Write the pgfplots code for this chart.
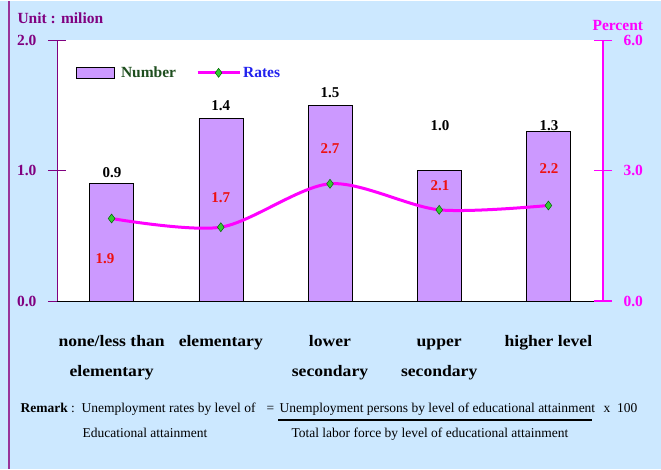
\documentclass[border=0pt]{standalone}
\usepackage{pgfplots}
\pgfplotsset{compat=1.18}
\usepackage{fontspec}
\setmainfont{Liberation Serif}
\newfontfamily\catfont[FakeStretch=1.1]{Liberation Serif}
\definecolor{bg}{HTML}{CCE8FF}
\definecolor{axpurple}{HTML}{800080}
\definecolor{outerline}{HTML}{993399}
\definecolor{barfill}{HTML}{CC99FF}
\definecolor{ratemag}{HTML}{FF00FF}
\definecolor{markgreen}{HTML}{33CC33}
\definecolor{numgreen}{HTML}{1F4F1F}
\definecolor{ratesblue}{HTML}{2222EE}
\definecolor{valred}{HTML}{EE1111}
\newcommand{\fs}[1]{\fontsize{#1}{#1}\selectfont}
\pgfplotsset{
  linelegend/.style={legend image code/.code={\draw[mark repeat=2, mark phase=2, ##1] plot coordinates {(0pt,0pt) (21pt,0pt) (42pt,0pt)};}},
  barlegend/.style={legend image code/.code={\draw[fill=barfill, draw=black, line width=0.8pt] (0pt,-5.5pt) rectangle (38pt,5.5pt);}},
}
\begin{document}
\begin{tikzpicture}[x=1pt,y=1pt]
\fill[bg] (0,0) rectangle (661,468);
\draw[outerline, line width=2pt] (9,0) -- (9,468);
% left axis: bars
\begin{axis}[
  at={(57pt,168pt)}, anchor=south west,
  scale only axis, width=546pt, height=260.5pt,
  xmin=0, xmax=5, ymin=0, ymax=2,
  axis background/.style={fill=white},
  axis x line*=bottom, axis y line*=left,
  x axis line style={draw=black, line width=0.8pt},
  y axis line style={draw=axpurple, line width=0.8pt},
  xtick={0.5,1.5,2.5,3.5,4.5},
  xticklabels={{\vphantom{l}none/less than\\elementary},{\vphantom{l}elementary},{\vphantom{l}lower\\secondary},{\vphantom{l}upper\\secondary},{\vphantom{l}higher level}},
  major x tick style={draw=none},
  xticklabel style={align=center, anchor=north, font=\catfont\fontsize{16}{30}\selectfont\bfseries, yshift=-22pt},
  extra x ticks={0,1,2,3,4,5},
  extra x tick labels={},
  extra x tick style={major tick length=12pt, tick align=center, tick style={draw=black, line width=0.8pt}},
  ytick={0,1,2},
  y tick style={draw=axpurple, line width=0.8pt},
  major tick length=18pt, tick align=center,
  yticklabel style={text=axpurple, font=\fs{15.5}\bfseries, xshift=-8pt},
  /pgf/number format/.cd, fixed, fixed zerofill, precision=1, assume math mode=true,
]
\addplot[ybar, bar width=44pt, fill=barfill, draw=black, line width=0.6pt]
  coordinates {(0.5,0.9) (1.5,1.4) (2.5,1.5) (3.5,1.0) (4.5,1.3)};
\node[font=\fs{15}\bfseries] at (axis cs:0.504,0.985) {0.9};
\node[font=\fs{15}\bfseries] at (axis cs:1.5,1.5) {1.4};
\node[font=\fs{15}\bfseries] at (axis cs:2.5,1.6) {1.5};
\node[font=\fs{15}\bfseries] at (axis cs:3.507,1.346) {1.0};
\node[font=\fs{15}\bfseries] at (axis cs:4.505,1.346) {1.3};
\end{axis}
% right axis: rates
\begin{axis}[
  at={(57pt,168pt)}, anchor=south west,
  scale only axis, width=546pt, height=260.5pt,
  xmin=0, xmax=5, ymin=0, ymax=6,
  axis x line=none, axis y line*=right,
  y axis line style={draw=ratemag, line width=1.2pt},
  ytick={0,3,6},
  y tick style={draw=ratemag, line width=1.2pt},
  major tick length=18pt, tick align=center,
  yticklabel style={text=ratemag, font=\fs{15.5}\bfseries, xshift=8pt},
  /pgf/number format/.cd, fixed, fixed zerofill, precision=1, assume math mode=true,
  /pgfplots/.cd,
  legend columns=2,
  legend style={at={(rel axis cs:0,1)}, anchor=north west, xshift=16pt, yshift=-22pt,
    draw=none, fill=none, font=\fs{15.5}\bfseries,
    /tikz/every even column/.append style={column sep=18pt}},
]
\addlegendimage{barlegend}
\addlegendentry{\hspace{4pt}\textcolor{numgreen}{Number}}
\addplot[ratemag, line width=3pt, smooth, mark=diamond*, mark size=4.5pt,
  mark options={fill=markgreen, draw=black!60!green, line width=0.5pt}, linelegend]
  coordinates {(0.5,1.9) (1.5,1.7) (2.5,2.7) (3.5,2.1) (4.5,2.2)};
\addlegendentry{\textcolor{ratesblue}{Rates}}
\node[font=\fs{15}\bfseries, text=valred] at (axis cs:0.44,0.97) {1.9};
\node[font=\fs{15}\bfseries, text=valred] at (axis cs:1.5,2.38) {1.7};
\node[font=\fs{15}\bfseries, text=valred] at (axis cs:2.5,3.51) {2.7};
\node[font=\fs{15}\bfseries, text=valred] at (axis cs:3.507,2.65) {2.1};
\node[font=\fs{15}\bfseries, text=valred] at (axis cs:4.505,3.05) {2.2};
\end{axis}
% titles
\node[anchor=west, text=axpurple, font=\fs{15.5}\bfseries] at (14,451) {Unit : milion};
\node[anchor=west, text=ratemag, font=\fs{15.5}\bfseries] at (589,443) {Percent};
% remark
\node[anchor=base west, font=\fs{13.5}] at (17,56) {\textbf{Remark} :\ \ Unemployment rates by level of};
\node[anchor=base west, font=\fs{13.5}] at (263,56) {=};
\node[anchor=base west, font=\fs{13.5}] at (276,56) {Unemployment persons by level of educational attainment};
\node[anchor=base west, font=\fs{13.5}] at (600,56) {x\ \ 100};
\draw[line width=1.5pt] (278,49) -- (592,49);
\node[anchor=base west, font=\fs{13.5}] at (79,31) {Educational attainment};
\node[anchor=base west, font=\fs{13.5}] at (288,31) {Total labor force by level of educational attainment};
\end{tikzpicture}
\end{document}
